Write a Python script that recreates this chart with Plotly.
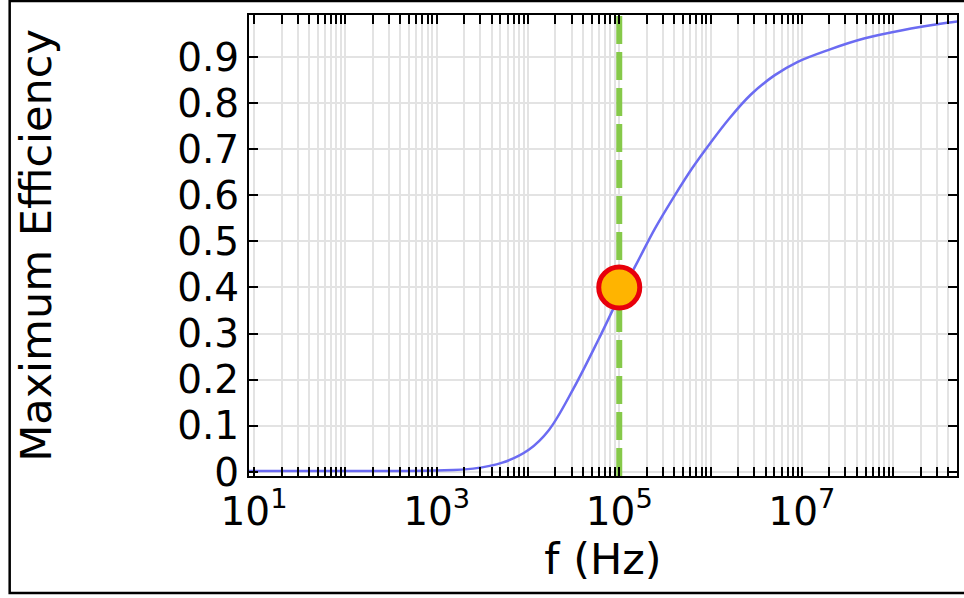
import plotly.graph_objects as go

# Data (frequency in Hz, maximum efficiency)
freq_hz = [8.8, 1e2, 1e3, 2.51e3, 5.25e3, 1.02e4, 1.7e4, 3.16e4, 5.89e4, 1e5,
           1.58e5, 2.45e5, 3.98e5, 6.31e5, 1e6, 1.58e6, 2.75e6, 5.01e6, 8.91e6,
           2e7, 4.79e7, 1.26e8, 3.89e8, 5.01e8]
max_eff = [0.002, 0.002, 0.003, 0.007, 0.02, 0.048, 0.091, 0.181, 0.286, 0.38,
           0.455, 0.527, 0.597, 0.659, 0.714, 0.765, 0.818, 0.86, 0.889,
           0.916, 0.94, 0.958, 0.974, 0.977]

marker_f = [1e5]
marker_eff = [0.4]
vline_f = 1e5

x_label_vals = [1e1, 1e3, 1e5, 1e7]
x_label_text = ["10<sup>1</sup>", "10<sup>3</sup>", "10<sup>5</sup>", "10<sup>7</sup>"]
x_minor_vals = [k * 10 ** d for d in range(0, 9) for k in range(1, 10)
                if not (k == 1 and d in (1, 3, 5, 7))]
y_tick_vals = [0, 0.1, 0.2, 0.3, 0.4, 0.5, 0.6, 0.7, 0.8, 0.9]
y_tick_text = ["0", "0.1", "0.2", "0.3", "0.4", "0.5", "0.6", "0.7", "0.8", "0.9"]

FONT = "DejaVu Sans"
W, H = 964, 598
L, R, T, B = 249, 5, 15, 122
pw, ph = W - L - R, H - T - B
GRID = "#e3e3e3"

fig = go.Figure()
fig.add_trace(go.Scatter(x=freq_hz, y=max_eff, mode="lines",
                         line=dict(color="#6b6bf2", width=2.5, shape="spline", smoothing=1),
                         showlegend=False, hoverinfo="skip"))
fig.add_trace(go.Scatter(x=[vline_f, vline_f], y=[-0.009, 0.991], mode="lines",
                         line=dict(color="#86c94a", width=6, dash="28px,8px"),
                         showlegend=False, hoverinfo="skip"))
fig.add_trace(go.Scatter(x=marker_f, y=marker_eff, mode="markers",
                         marker=dict(size=41, color="#ffb400",
                                     line=dict(color="#e8000b", width=5)),
                         showlegend=False, hoverinfo="skip"))

fig.update_layout(
    width=W, height=H,
    margin=dict(l=L, r=R, t=T, b=B, pad=0),
    paper_bgcolor="white", plot_bgcolor="white",
    font=dict(family=FONT, color="black", size=39),
    xaxis=dict(type="log", range=[0.945, 8.699],
               tickmode="array", tickvals=x_label_vals, ticktext=x_label_text,
               ticks="inside", ticklen=9, tickwidth=2, tickcolor="black",
               showline=True, linecolor="black", linewidth=2, mirror="ticks",
               showgrid=True, gridcolor=GRID, gridwidth=1.5,
               minor=dict(tickmode="array", tickvals=x_minor_vals, ticks="inside",
                          ticklen=9, tickwidth=2, tickcolor="black",
                          showgrid=True, gridcolor=GRID, gridwidth=1.5),
               tickfont=dict(size=39, family=FONT),
               title=dict(text="f (Hz)", font=dict(size=43, family=FONT), standoff=8),
               zeroline=False),
    yaxis=dict(range=[-0.009, 0.991],
               tickmode="array", tickvals=y_tick_vals, ticktext=y_tick_text,
               ticks="inside", ticklen=9, tickwidth=2, tickcolor="black",
               showline=True, linecolor="black", linewidth=2, mirror="ticks",
               showgrid=True, gridcolor=GRID, gridwidth=1.5,
               tickfont=dict(size=39, family=FONT),
               title=dict(text="Maximum Efficiency", font=dict(size=43, family=FONT), standoff=112),
               zeroline=False),
    shapes=[dict(type="rect", xref="paper", yref="paper",
                 x0=(9 - L) / pw, x1=(975 - L) / pw,
                 y0=(H - B - 593) / ph, y1=(H - B - 1) / ph,
                 line=dict(color="black", width=2.5), fillcolor="rgba(0,0,0,0)",
                 layer="above")],
)

fig.write_html("out.html")
